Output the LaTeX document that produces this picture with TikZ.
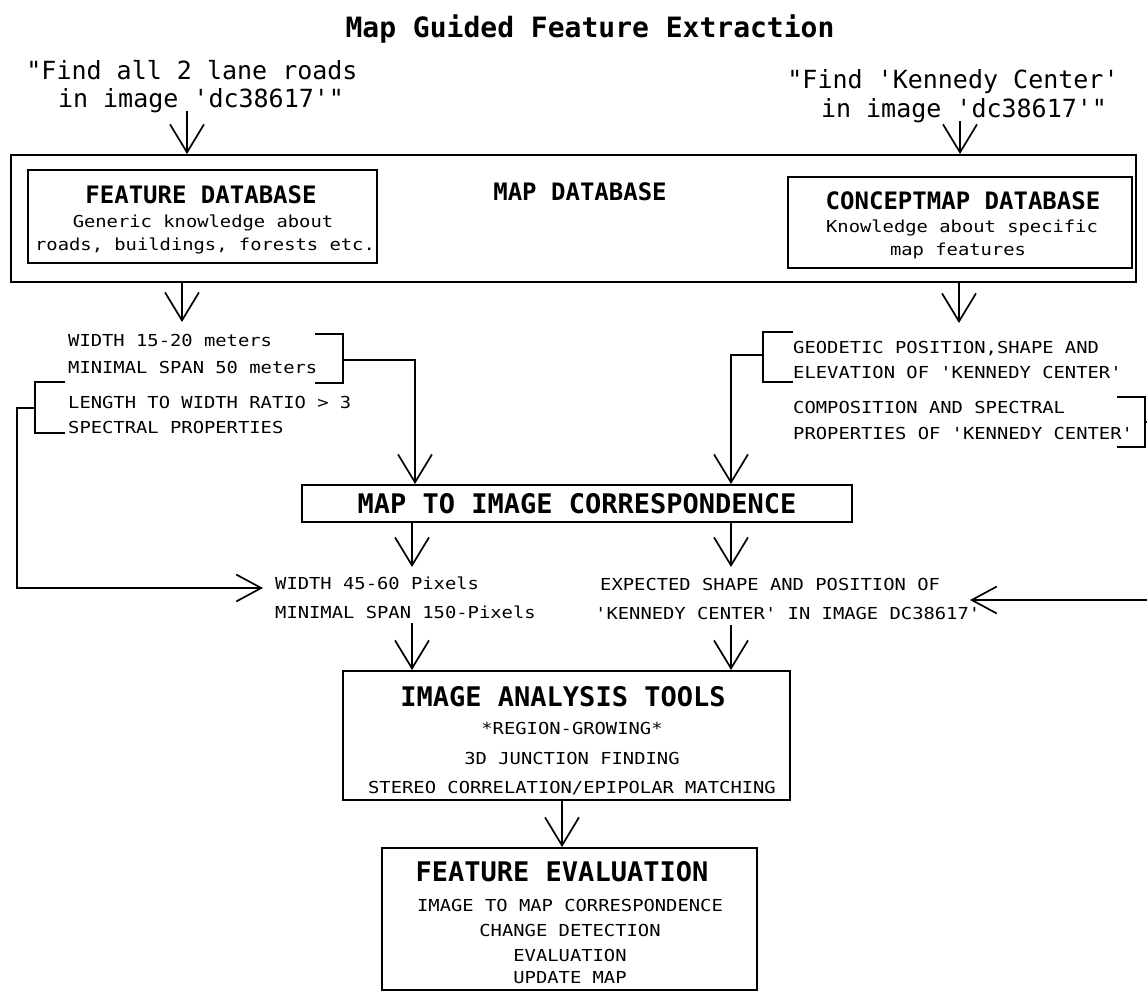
\documentclass[tikz,border=0pt]{standalone}
\usepackage{fontspec}
\usetikzlibrary{arrows.meta}
% plotter-like monospaced lettering
\newfontfamily\plotmono{DejaVu Sans Mono}
\newfontfamily\plotwide[FakeStretch=1.14]{DejaVu Sans Mono}
\begin{document}
\begin{tikzpicture}[x=1pt,y=-1pt,
  box/.style={draw, line width=2pt, inner sep=0pt},
  flow/.style={line width=1.7pt, -{Straight Barb[length=28pt,width=34pt]}},
  back/.style={line width=1.7pt, -{Straight Barb[length=25pt,width=27pt]}},
  brk/.style={line width=1.7pt},
  listtxt/.style={font=\plotwide\fontsize{16.5}{18}\selectfont, inner sep=0pt, text height=12pt, text depth=0pt},
  headtxt/.style={font=\plotmono\bfseries\fontsize{24}{26}\selectfont, inner sep=0pt, text height=17.5pt, text depth=0pt},
  bigtxt/.style={font=\plotmono\bfseries\fontsize{27}{29}\selectfont, inner sep=0pt, text height=19.7pt, text depth=0pt},
  quotetxt/.style={font=\plotmono\fontsize{25}{27}\selectfont, inner sep=0pt, text height=18pt, text depth=0pt},
  titletxt/.style={font=\plotmono\bfseries\fontsize{28}{30}\selectfont, inner sep=0pt, text height=20.4pt, text depth=0pt},
]
\useasboundingbox (0,0) rectangle (1147,992);

% title and the two queries
\node[titletxt] (title) at (590,27) {Map Guided Feature Extraction};
\node[quotetxt] (qL1) at (192,71) {"Find all 2 lane roads};
\node[quotetxt] (qL2) at (201,99) {in image 'dc38617'"};
\node[quotetxt] (qR1) at (953,80) {"Find 'Kennedy Center'};
\node[quotetxt] (qR2) at (964,109) {in image 'dc38617'"};

% map database with its two parts
\node[box, minimum width=1125pt, minimum height=127pt] (mapdb) at (573.5,218.5) {};
\node[headtxt] (mapdbT) at (580,192) {MAP DATABASE};
\node[box, minimum width=349pt, minimum height=93pt] (featdb) at (202.5,216.5) {};
\node[headtxt] (featdbT) at (201,195) {FEATURE DATABASE};
\node[listtxt] (featdbA) at (203,222) {Generic knowledge about};
\node[listtxt] (featdbB) at (205,245) {roads, buildings, forests etc.};
\node[box, minimum width=344pt, minimum height=91pt] (concdb) at (960,222.5) {};
\node[headtxt] (concdbT) at (963,201) {CONCEPTMAP DATABASE};
\node[listtxt] (concdbA) at (962,227) {Knowledge about specific};
\node[listtxt] (concdbB) at (958,249) {map features};

% generic road properties
\node[listtxt, anchor=west] (roadA) at (68,340) {WIDTH 15-20 meters};
\node[listtxt, anchor=west] (roadB) at (68,367) {MINIMAL SPAN 50 meters};
\node[listtxt, anchor=west] (roadC) at (68,402) {LENGTH TO WIDTH RATIO > 3};
\node[listtxt, anchor=west] (roadD) at (68,427) {SPECTRAL PROPERTIES};

% specific properties of the building
\node[listtxt, anchor=west] (kcA) at (793,347) {GEODETIC POSITION,SHAPE AND};
\node[listtxt, anchor=west] (kcB) at (793,372) {ELEVATION OF 'KENNEDY CENTER'};
\node[listtxt, anchor=west] (kcC) at (793,407) {COMPOSITION AND SPECTRAL};
\node[listtxt, anchor=west] (kcD) at (793,433) {PROPERTIES OF 'KENNEDY CENTER'};

% correspondence step
\node[box, bigtxt, minimum width=550pt, minimum height=37pt] (corr) at (577,503.5) {MAP TO IMAGE CORRESPONDENCE};

% image-space expectations
\node[listtxt, anchor=west] (pixA) at (275,583) {WIDTH 45-60 Pixels};
\node[listtxt, anchor=west] (pixB) at (275,612) {MINIMAL SPAN 150-Pixels};
\node[listtxt, anchor=west] (expA) at (600,584) {EXPECTED SHAPE AND POSITION OF};
\node[listtxt, anchor=west] (expB) at (595,613) {'KENNEDY CENTER' IN IMAGE DC38617'};

% analysis tools
\node[box, minimum width=447pt, minimum height=129pt] (ana) at (566.5,735.5) {};
\node[bigtxt] (anaT) at (563,697) {IMAGE ANALYSIS TOOLS};
\node[listtxt] (anaA) at (572,728) {*REGION-GROWING*};
\node[listtxt] (anaB) at (572,758) {3D JUNCTION FINDING};
\node[listtxt] (anaC) at (572,787) {STEREO CORRELATION/EPIPOLAR MATCHING};

% evaluation
\node[box, minimum width=375pt, minimum height=142pt] (eval) at (569.5,919) {};
\node[bigtxt] (evalT) at (562,872) {FEATURE EVALUATION};
\node[listtxt] (evalA) at (570,905) {IMAGE TO MAP CORRESPONDENCE};
\node[listtxt] (evalB) at (570,930) {CHANGE DETECTION};
\node[listtxt] (evalC) at (570,955) {EVALUATION};
\node[listtxt] (evalD) at (570,977) {UPDATE MAP};

% arrow lanes
\coordinate (laneQL) at (187,111);
\coordinate (laneQR) at (960,121);
\coordinate (laneFD) at (182,322);
\coordinate (laneCD) at (959,323);
\coordinate (laneL) at (412,567);
\coordinate (laneR) at (731,567);
\coordinate (laneLb) at (412,623);
\coordinate (laneRb) at (731,625);
\coordinate (laneE) at (562,0);
\coordinate (inRoad) at (415,0);

% queries into the database, database out to the property lists
\draw[flow] (laneQL) -- (laneQL |- mapdb.north);
\draw[flow] (laneQR) -- (laneQR |- mapdb.north);
\draw[flow] (laneFD |- mapdb.south) -- (laneFD);
\draw[flow] (laneCD |- mapdb.south) -- (laneCD);

% brackets grouping the property lines
\draw[brk] (315,334) -- (343,334) -- (343,383) -- (315,383);
\coordinate (brkRoad) at (343,360);
\draw[brk] (65,382) -- (35,382) -- (35,433) -- (65,433);
\coordinate (brkSpec) at (35,408);
\draw[brk] (793,332) -- (763,332) -- (763,382) -- (793,382);
\coordinate (brkGeo) at (763,355);
\draw[brk] (1117,397) -- (1145,397) -- (1145,447) -- (1117,447);
\coordinate (brkComp) at (1145,422);

% into the correspondence step
\draw[flow] (brkRoad) -| (inRoad |- corr.north);
\draw[flow] (brkGeo) -| (laneR |- corr.north);

% out of the correspondence step
\draw[flow] (laneL |- corr.south) -- (laneL);
\draw[flow] (laneR |- corr.south) -- (laneR);

% properties passed straight to the image stage
\coordinate (tipSpec) at (263,588);
\draw[back] (brkSpec) -- ++(-18,0) |- (tipSpec);
\coordinate (edgeComp) at (1147,600);
\coordinate (tipComp) at (970,600);
\draw[brk] (brkComp) -- (brkComp -| edgeComp);
\draw[back] (edgeComp) -- (tipComp);

% down to the tools and the evaluation
\draw[flow] (laneLb) -- (laneLb |- ana.north);
\draw[flow] (laneRb) -- (laneRb |- ana.north);
\draw[flow] (laneE |- ana.south) -- (laneE |- eval.north);
\end{tikzpicture}
\end{document}
